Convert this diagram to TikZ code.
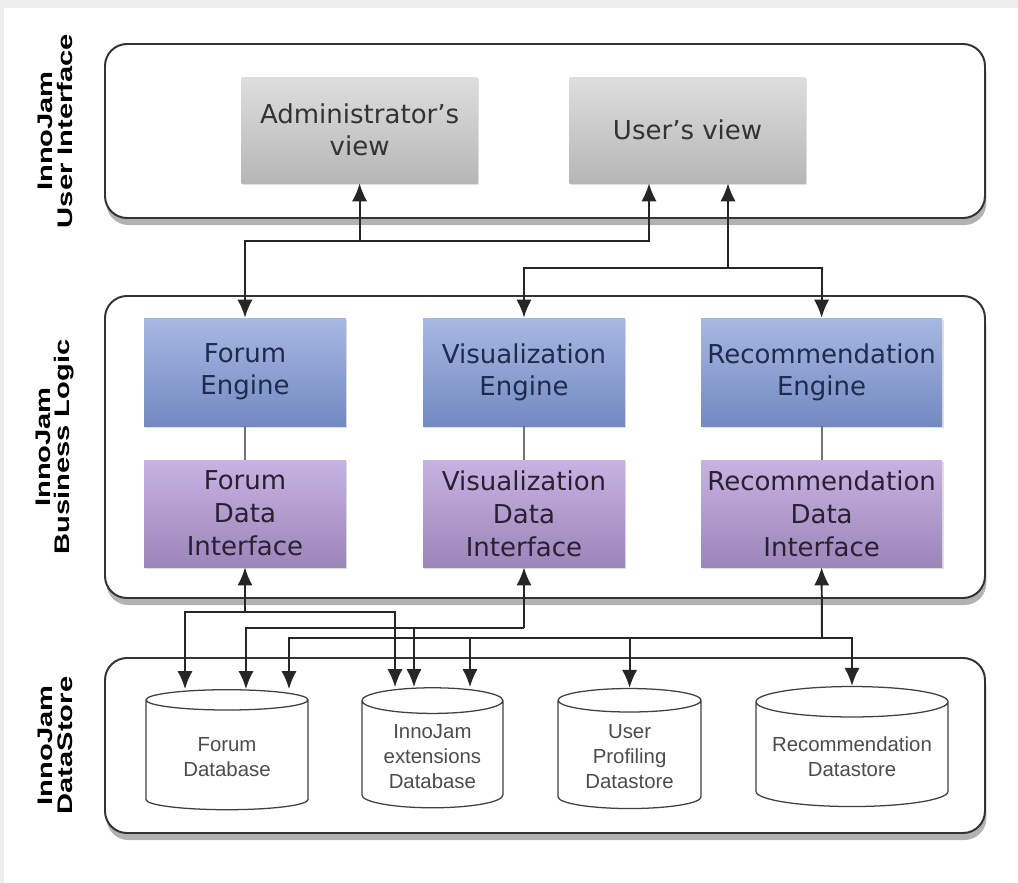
\documentclass[tikz,border=0pt]{standalone}
\usepackage{fontspec}
\usepackage{graphicx}
\setmainfont{DejaVu Sans}
\newfontfamily\sidefont{Liberation Sans}
\newfontfamily\dbfont{Liberation Sans}
\usetikzlibrary{shapes.geometric, shadows, arrows.meta}

\definecolor{viewtop}{HTML}{DEDEDE}
\definecolor{viewbot}{HTML}{B6B6B6}
\definecolor{enginetop}{HTML}{A7B8E2}
\definecolor{enginebot}{HTML}{7389C1}
\definecolor{ifacetop}{HTML}{C7B3E2}
\definecolor{ifacebot}{HTML}{9C85B9}
\definecolor{enginetext}{HTML}{1E2B4D}
\definecolor{ifacetext}{HTML}{2B2033}

\newcommand\sidetext[1]{\scalebox{1.38}[1]{#1}}

\tikzset{
    panel/.style={draw=black!80, line width=1.4pt, rounded corners=0.55cm, fill=white, minimum width=22cm,
        drop shadow={shadow xshift=1pt, shadow yshift=-5pt, opacity=0.3, fill=black}},
    layer/.style={rotate=90, align=center, font=\sidefont\bfseries\fontsize{15}{14}\selectfont},
    viewbox/.style={top color=viewtop, bottom color=viewbot, minimum width=5.9cm, minimum height=2.65cm,
        align=center, text=black!80, font=\fontsize{18.5}{23}\selectfont,
        drop shadow={shadow xshift=1pt, shadow yshift=-1.5pt, opacity=0.25}},
    enginebox/.style={top color=enginetop, bottom color=enginebot, minimum height=2.7cm,
        align=center, text=enginetext, font=\fontsize{18.5}{23}\selectfont,
        drop shadow={shadow xshift=1pt, shadow yshift=-1.5pt, opacity=0.25}},
    ifacebox/.style={top color=ifacetop, bottom color=ifacebot, minimum height=2.675cm,
        align=center, text=ifacetext, font=\fontsize{18.5}{23.5}\selectfont,
        drop shadow={shadow xshift=1pt, shadow yshift=-1.5pt, opacity=0.25}},
    store/.style={cylinder, shape border rotate=90, draw=black!75, line width=0.9pt, fill=white,
        minimum height=3cm, align=center, text=black!70, font=\dbfont\fontsize{14.5}{17.7}\selectfont},
    link/.style={line width=1.4pt, draw=black!85},
    arr/.style={link, -{Latex[length=0.45cm, width=0.38cm]}},
    biarr/.style={link, {Latex[length=0.45cm, width=0.38cm]}-{Latex[length=0.45cm, width=0.38cm]}},
}

\begin{document}
\begin{tikzpicture}
    \useasboundingbox (0,0) rectangle (25.45,-22.075);
    \fill[gray!14] (0,0) rectangle (25.45,-22.075);
    \fill[white] (0.1,-0.2) rectangle (25.45,-22.075);

    \node[panel, minimum height=4.35cm] (uipanel) at (13.625,-3.275) {};
    \node[panel, minimum height=7.55cm] (logicpanel) at (13.625,-11.175) {};
    \node[panel, minimum height=4.375cm] (storepanel) at (13.625,-18.6375) {};

    \node[layer] (uilabel) at ([xshift=-1.225cm]uipanel.west) {\sidetext{InnoJam}\\\sidetext{User Interface}};
    \node[layer] (logiclabel) at ([xshift=-1.225cm]logicpanel.west) {\sidetext{InnoJam}\\\sidetext{Business Logic}};
    \node[layer] (storelabel) at ([xshift=-1.225cm]storepanel.west) {\sidetext{InnoJam}\\\sidetext{DataStore}};

    \node[viewbox] (admin) at (8.99,-3.25) {Administrator's\\view};
    \node[viewbox] (user) at (17.19,-3.25) {User's view};

    \node[enginebox, minimum width=5.05cm] (fe) at (6.125,-9.3) {Forum\\Engine};
    \node[enginebox, minimum width=5.05cm] (ve) at (13.1,-9.3) {Visualization\\Engine};
    \node[enginebox, minimum width=6.025cm] (re) at (20.54,-9.3) {Recommendation\\Engine};

    \node[ifacebox, minimum width=5.05cm] (fdi) at (6.125,-12.84) {Forum\\Data\\Interface};
    \node[ifacebox, minimum width=5.05cm] (vdi) at (13.1,-12.84) {Visualization\\Data\\Interface};
    \node[ifacebox, minimum width=6.025cm] (rdi) at (20.54,-12.84) {Recommendation\\Data\\Interface};

    \node[store, minimum width=4.05cm, aspect=0.21] (fdb) at (5.675,-18.92) {Forum\\Database};
    \node[store, minimum width=3.525cm, aspect=0.24] (edb) at (10.81,-18.92) {InnoJam\\extensions\\Database};
    \node[store, minimum width=3.575cm, aspect=0.24] (udb) at (15.74,-18.92) {User\\Profiling\\Datastore};
    \node[store, minimum width=4.8cm, aspect=0.18] (rds) at (21.3,-18.92) {Recommendation\\Datastore};

    \draw[link, draw=black!55] (fe) -- (fdi);
    \draw[link, draw=black!55] (ve) -- (vdi);
    \draw[link, draw=black!55] (re) -- (rdi);

    \coordinate (j1) at (16.225,-6.025);
    \coordinate (j2) at (18.2,-6.7);
    \draw[biarr] (fe.north) |- (j1) -- (j1 |- user.south);
    \draw[arr] (admin.south |- j1) -- (admin.south);
    \draw[biarr] (ve.north) |- (j2) -| (re.north);
    \draw[arr] (j2) -- (j2 |- user.south);

    \coordinate (k1) at (6.125,-15.3);
    \coordinate (k2) at (13.1,-15.7);
    \coordinate (k3) at (20.55,-15.95);
    \draw[arr] (k1) -- (fdi.south);
    \draw[biarr] ([xshift=-1.05cm]fdb.north) |- (k1) -| ([xshift=-0.935cm]edb.north);
    \draw[arr] (k2) -- (vdi.south);
    \draw[arr] (k2) -| ([xshift=0.475cm]fdb.north);
    \draw[arr] ([xshift=-0.46cm]edb.north |- k2) -- ([xshift=-0.46cm]edb.north);
    \draw[arr] (k3) -- (rdi.south);
    \draw[biarr] ([xshift=1.55cm]fdb.north) |- (k3) -| (rds.north);
    \draw[arr] ([xshift=0.94cm]edb.north |- k3) -- ([xshift=0.94cm]edb.north);
    \draw[arr] (udb.north |- k3) -- (udb.north);
\end{tikzpicture}
\end{document}
